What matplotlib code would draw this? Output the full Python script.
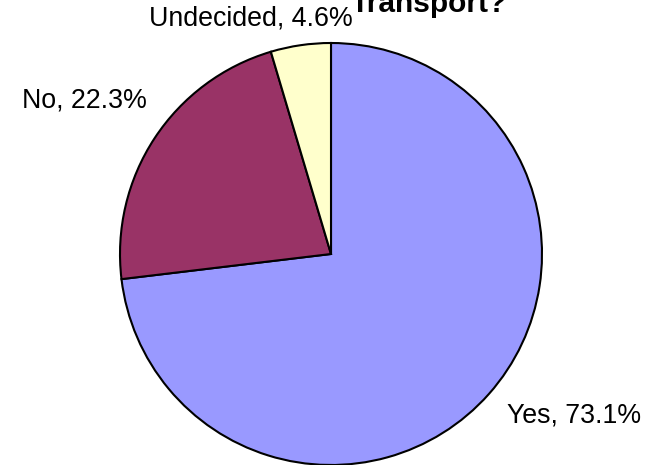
import matplotlib
matplotlib.use('Agg')
from matplotlib import pyplot as plt

plt.rcParams['font.family'] = ['Liberation Sans', 'DejaVu Sans']

# 数据
labels = ['Yes', 'No', 'Undecided']
shares = [73.1, 22.3, 4.6]
colors = ['#9999FF', '#993366', '#FFFFCC']

W, H = 646, 465
fig = plt.figure(figsize=(W / 100, H / 100), dpi=100)

# 饼图中心和半径（像素）
cx, cy, r = 331, 254, 211
ax = fig.add_axes([(cx - r) / W, (H - cy - r) / H, 2 * r / W, 2 * r / H])
ax.pie(shares, colors=colors, startangle=90, counterclock=False,
       wedgeprops=dict(edgecolor='black', linewidth=1.5))
ax.set_xlim(-1, 1)
ax.set_ylim(-1, 1)
ax.set_aspect('equal')
ax.axis('off')

# 标签位置（像素）
label_pos = [(507, 415), (22, 100), (149, 18)]
for name, val, (px, py) in zip(labels, shares, label_pos):
    ax.text((px - cx) / r, (cy - py) / r, f'{name}, {val}%', fontsize=19.3,
            ha='left', va='center', clip_on=False)

# 标题（原图中上半部分被裁掉）
fig.text(429 / W, 1 - 12 / H, 'Transport?', fontsize=21.5, fontweight='bold',
         ha='center', va='baseline')

fig.savefig('out.png', dpi=100)
